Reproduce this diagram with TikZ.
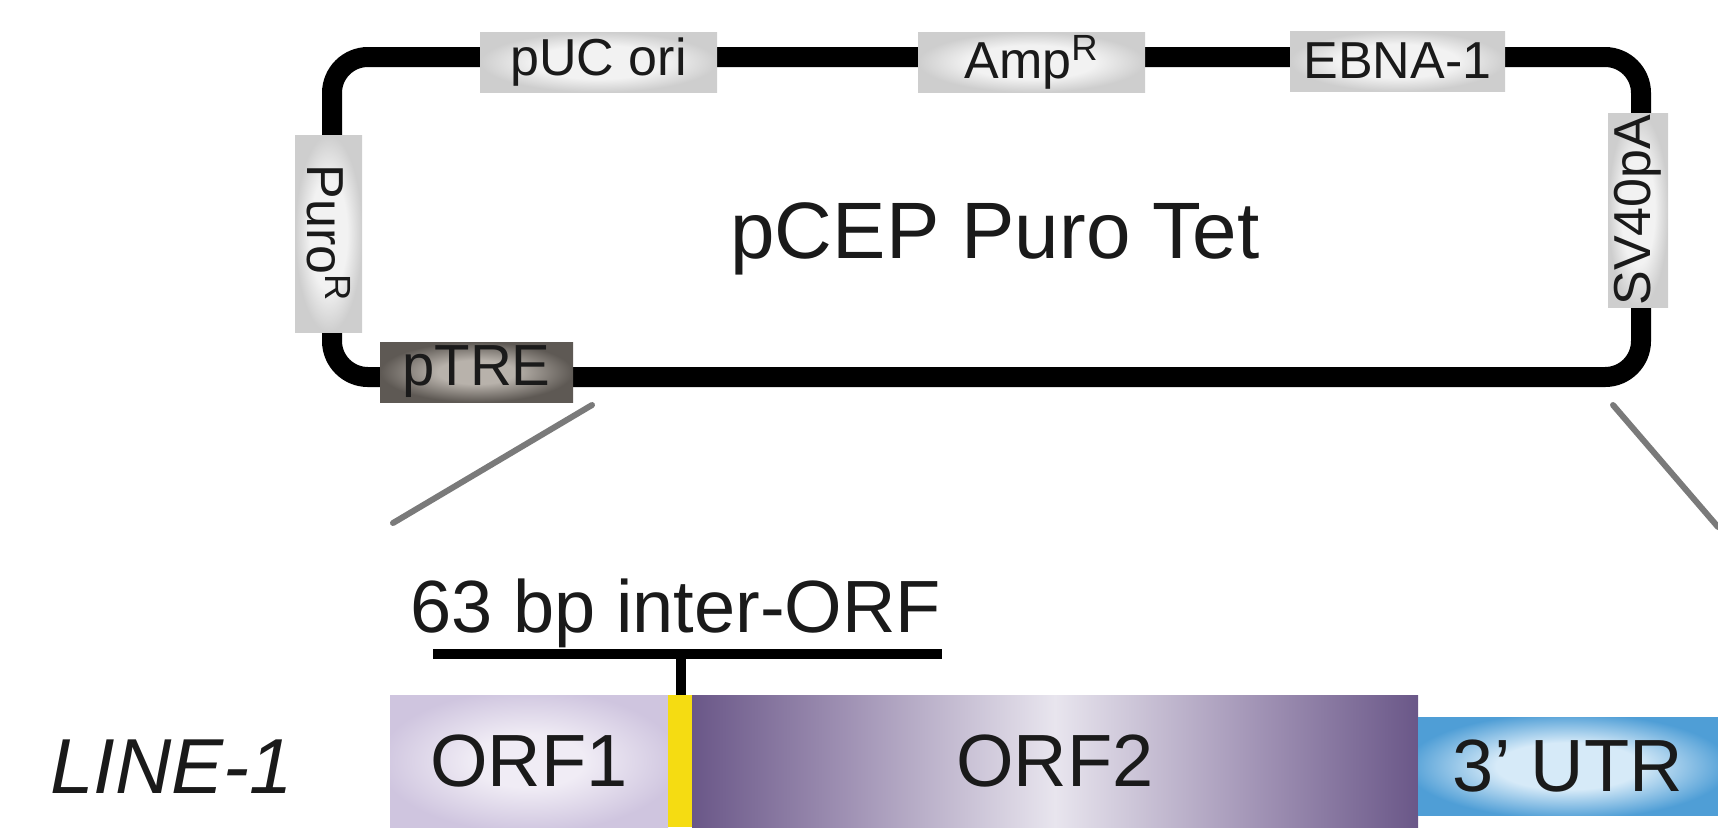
\documentclass[tikz,border=0pt]{standalone}
\usepackage{fontspec}
\setmainfont{Liberation Sans}
\definecolor{gin}{HTML}{F2F2F2}
\definecolor{gout}{HTML}{CECECE}
\definecolor{tin}{HTML}{B8B2AB}
\definecolor{tout}{HTML}{5E5954}
\definecolor{o1in}{HTML}{F0ECF5}
\definecolor{o1out}{HTML}{CFC5DF}
\definecolor{o2dark}{HTML}{6A5788}
\definecolor{o2mid}{HTML}{A193B5}
\definecolor{o2light}{HTML}{E8E5EE}
\definecolor{utrin}{HTML}{D6EAF8}
\definecolor{utrout}{HTML}{4F9ED6}
\definecolor{orfyellow}{HTML}{F5DC12}
\definecolor{zoomgray}{HTML}{7A7A7A}
\definecolor{txt}{HTML}{1A1A1A}
\pgfdeclareradialshading{graybox}{\pgfpoint{0bp}{0bp}}{color(0bp)=(gin); color(14bp)=(gin); color(25bp)=(gout); color(50bp)=(gout)}
\pgfdeclareradialshading{trebox}{\pgfpoint{0bp}{0bp}}{color(0bp)=(tin); color(10bp)=(tin); color(25bp)=(tout); color(50bp)=(tout)}
\pgfdeclareradialshading{orfonebox}{\pgfpoint{0bp}{0bp}}{color(0bp)=(o1in); color(10bp)=(o1in); color(27bp)=(o1out); color(50bp)=(o1out)}
\pgfdeclareradialshading{utrbox}{\pgfpoint{0bp}{0bp}}{color(0bp)=(utrin); color(12bp)=(utrin); color(27bp)=(utrout); color(50bp)=(utrout)}
\pgfdeclarehorizontalshading{orftwobox}{100bp}{color(0bp)=(o2dark); color(25bp)=(o2dark); color(36bp)=(o2mid); color(50bp)=(o2light); color(64bp)=(o2mid); color(75bp)=(o2dark); color(100bp)=(o2dark)}
\begin{document}
\begin{tikzpicture}[x=0.5pt,y=-0.5pt,
  plasmid/.style={line width=10pt, rounded corners=18pt, draw=black},
  feat/.style={inner sep=0pt, text=txt, font=\fontsize{26}{30}\selectfont, shading=graybox, minimum height=30pt},
  darkfeat/.style={inner sep=0pt, text=txt, font=\fontsize{29}{32}\selectfont, shading=trebox, minimum height=30pt},
  orfbox/.style={inner sep=0pt, text=txt, font=\fontsize{37}{40}\selectfont},
  zoomline/.style={draw=zoomgray, line width=3pt, line cap=round},
  barline/.style={draw=black, line width=5pt}
]
\useasboundingbox (0,0) rectangle (1718,827);
% plasmid backbone
\draw[plasmid] (332,57) rectangle (1641,377);
% features
\node[feat, minimum width=118.5pt] (puc) at (598.5,62) {pUC ori};
\node[feat, minimum width=113.5pt] (amp) at (1031.5,62) {Amp\textsuperscript{R}};
\node[feat, minimum width=107.5pt] (ebna) at (1397.5,61) {EBNA-1};
\node[feat, minimum width=97pt, rotate=90] (sv40) at (1638,210) {SV40pA};
\node[feat, minimum width=98.5pt, minimum height=33.5pt, rotate=-90] (puro) at (328.5,233.5) {Puro\textsuperscript{R}};
\node[darkfeat, minimum width=96.5pt] (ptre) at (476.5,372) {pTRE};
% title
\node[anchor=base, text=txt, font=\fontsize{40}{44}\selectfont, inner sep=0pt] (title) at (995,258) {pCEP Puro Tet};
% zoom lines
\coordinate (zla) at (592,405);
\coordinate (zlb) at (393,523);
\coordinate (zra) at (1613,405);
\coordinate (zrb) at (1718,527);
\draw[zoomline] (zla) -- (zlb);
\draw[zoomline] (zra) -- (zrb);
% inter-ORF label
\node[anchor=base, text=txt, font=\fontsize{37}{40}\selectfont, inner sep=0pt] (interlbl) at (676,632) {63 bp inter-ORF};
\coordinate (barl) at (433,654);
\coordinate (barr) at (942,654);
\coordinate (tickt) at (681,654);
\coordinate (tickb) at (681,695);
\draw[barline] (barl) -- (barr);
\draw[barline] (tickt) -- (tickb);
% LINE-1 construct
\node[anchor=base west, text=txt, font=\fontsize{39}{42}\selectfont\itshape, inner sep=0pt] (line1) at (50,793) {LINE-1};
\node[orfbox, shading=orfonebox, minimum width=139pt, minimum height=66pt] (orf1) at (529,761) {ORF1};
\node[inner sep=0pt, fill=orfyellow, minimum width=12pt, minimum height=66pt] (inter) at (680,761) {};
\node[orfbox, shading=orftwobox, minimum width=363pt, minimum height=66pt] (orf2) at (1055,761) {ORF2};
\node[orfbox, shading=utrbox, minimum width=150pt, minimum height=49pt] (utr) at (1568,766) {3’ UTR};
\end{tikzpicture}
\end{document}
